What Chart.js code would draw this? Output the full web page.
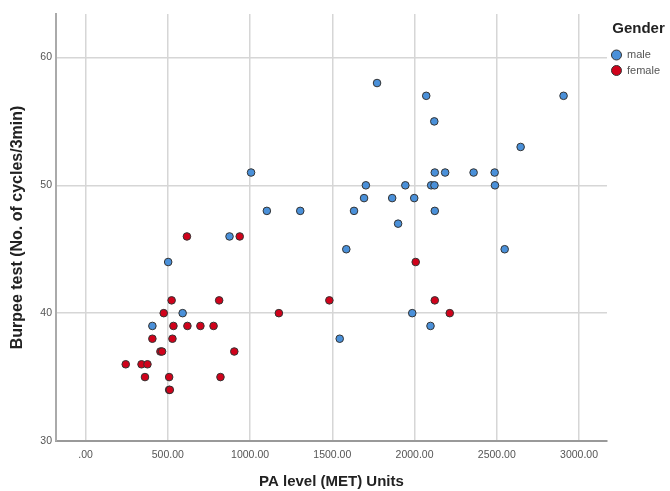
<!DOCTYPE html>
<html>
<head>
<meta charset="utf-8">
<title>Burpee test vs PA level</title>
<script src="https://cdn.jsdelivr.net/npm/chart.js@4.4.1/dist/chart.umd.min.js"></script>
<style>
  html, body { margin: 0; padding: 0; background: #fff; }
  #wrap { width: 670px; height: 491px; }
</style>
</head>
<body>
<div id="wrap"><canvas id="chart" width="670" height="491"></canvas></div>
<script>
// PA level (MET units) and Burpee cycles per 3 min
const maleMet = [1006, 1102, 1305, 875, 502, 590, 406, 1772, 2071, 2906, 2120, 2645,
                 2123, 2186, 2359, 2487, 1704, 1944, 2101, 2121, 2489, 1693, 1864, 1998,
                 1632, 2123, 1900, 1585, 2548, 1986, 2097, 1545];
const maleBurpee = [51, 48, 48, 46, 44, 40, 39, 58, 57, 57, 55, 53,
                    51, 51, 51, 51, 50, 50, 50, 50, 50, 49, 49, 49,
                    48, 48, 47, 45, 45, 40, 39, 38];

const femaleMet = [616, 937, 2007, 523, 812, 1482, 2123, 475, 1175, 2214, 534, 619,
                   698, 778, 406, 528, 455, 465, 904, 244, 340, 376, 361, 508,
                   820, 508, 512];
const femaleBurpee = [46, 46, 44, 41, 41, 41, 41, 40, 40, 40, 39, 39,
                      39, 39, 38, 38, 37, 37, 37, 36, 36, 36, 35, 35,
                      35, 34, 34];

const xTicks = [0, 500, 1000, 1500, 2000, 2500, 3000];
const yTicks = [30, 40, 50, 60];

const toPoints = (xs, ys) => xs.map((x, i) => ({ x: x, y: ys[i] }));

const fontFamily = "'Liberation Sans', Arial, sans-serif";
const tickFont = { family: fontFamily, size: 10.5 };
const gridColor = '#d6d6d6';

new Chart(document.getElementById('chart'), {
    type: 'scatter',
    data: {
        datasets: [
            {
                label: 'male',
                data: toPoints(maleMet, maleBurpee),
                backgroundColor: '#4a90d9',
                borderColor: '#333',
                borderWidth: 1,
                pointRadius: 3.8
            },
            {
                label: 'female',
                data: toPoints(femaleMet, femaleBurpee),
                backgroundColor: '#d0021b',
                borderColor: '#333',
                borderWidth: 1,
                pointRadius: 3.8
            }
        ]
    },
    options: {
        responsive: false,
        animation: false,
        devicePixelRatio: 1,
        layout: { padding: { top: 14, right: 0, bottom: 0, left: 0 } },
        scales: {
            x: {
                type: 'linear',
                min: -180,
                max: 3170,
                afterBuildTicks: (scale) => { scale.ticks = xTicks.map(v => ({ value: v })); },
                afterFit: (scale) => { scale.height = 50; },
                grid: { color: gridColor, lineWidth: 1.5, drawTicks: false },
                border: { color: '#999', width: 2 },
                ticks: {
                    padding: 8,
                    color: '#555',
                    font: tickFont,
                    maxRotation: 0,
                    callback: (v) => v === 0 ? '.00' : v.toFixed(2)
                },
                title: {
                    display: true,
                    text: 'PA level (MET) Units',
                    color: '#222',
                    font: { family: fontFamily, size: 15, weight: 'bold' },
                    padding: { top: 0, bottom: 0 }
                }
            },
            y: {
                type: 'linear',
                min: 30,
                max: 63.4,
                afterBuildTicks: (scale) => { scale.ticks = yTicks.map(v => ({ value: v })); },
                afterFit: (scale) => { scale.width = 56; },
                grid: { color: gridColor, lineWidth: 1.5, drawTicks: false },
                border: { color: '#aaa', width: 2 },
                ticks: {
                    padding: 4,
                    color: '#555',
                    font: tickFont
                },
                title: {
                    display: true,
                    text: 'Burpee test (No. of cycles/3min)',
                    color: '#222',
                    font: { family: fontFamily, size: 16, weight: 'bold' },
                    padding: { top: 8, bottom: 0 }
                }
            }
        },
        plugins: {
            legend: {
                position: 'right',
                align: 'start',
                title: {
                    display: true,
                    text: 'Gender',
                    position: 'center',
                    color: '#222',
                    font: { family: fontFamily, size: 15, weight: 'bold' },
                    padding: { top: 7, bottom: 6 }
                },
                labels: {
                    usePointStyle: true,
                    pointStyle: 'circle',
                    pointStyleWidth: 10,
                    boxHeight: 7.07,
                    padding: 4.5,
                    color: '#555',
                    font: { family: fontFamily, size: 11 }
                }
            },
            tooltip: { enabled: false }
        }
    }
});
</script>
</body>
</html>
